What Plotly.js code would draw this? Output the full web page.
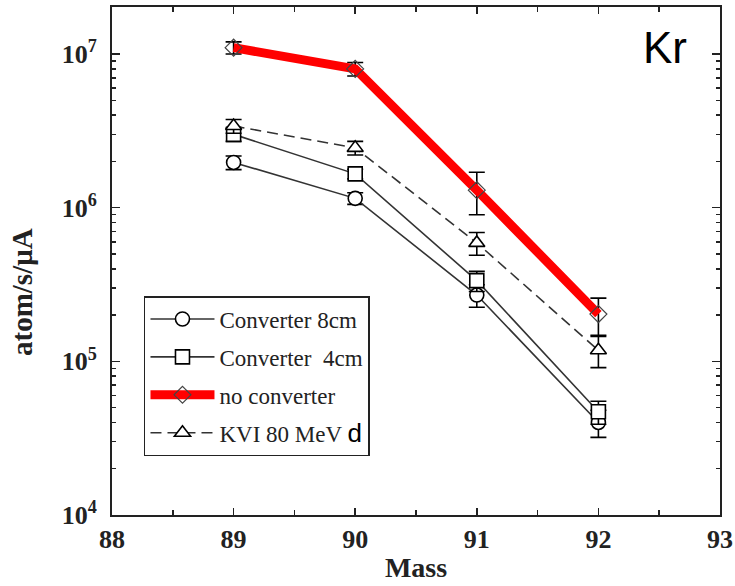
<!DOCTYPE html>
<html><head><meta charset="utf-8">
<script src="https://cdn.plot.ly/plotly-3.0.1.min.js"></script>
<style>body{margin:0;background:#fff}#plot{width:735px;height:586px}</style>
</head><body><div id="plot"></div>
<script>
const mass = [89, 90, 91, 92];
const seriesNames = ["Converter 8cm", "Converter  4cm", "no converter", "KVI 80 MeV"];
const conv8 = [1.97e6, 1.15e6, 2.7e5, 4.0e4];
const conv8Err = [0.2e6, 0.1e6, 0.45e5, 0.8e4];
const conv4 = [3.0e6, 1.66e6, 3.35e5, 4.7e4];
const conv4Err = [0.3e6, 0.12e6, 0.5e5, 0.8e4];
const noConv = [1.1e7, 8.0e6, 1.3e6, 2.03e5];
const noConvErr = [1.0e6, 0.8e6, 0.4e6, 0.55e5];
const kvi = [3.4e6, 2.45e6, 5.9e5, 1.18e5];
const kviErr = [0.35e6, 0.25e6, 1.0e5, 0.27e5];
const yTickVals = [1e4, 1e5, 1e6, 1e7];
const yTickText = ["<b>10<sup>4</sup></b>", "<b>10<sup>5</sup></b>", "<b>10<sup>6</sup></b>", "<b>10<sup>7</sup></b>"];
const xTickVals = [88, 89, 90, 91, 92, 93];
const xTickText = ["<b>88</b>", "<b>89</b>", "<b>90</b>", "<b>91</b>", "<b>92</b>", "<b>93</b>"];
const yTitle = "atom/s/μA";
const xTitle = "Mass";
const panelLabel = "Kr";
const kviSuffix = "d";

const minorY = [];
[1e4, 1e5, 1e6, 1e7].forEach(d => { for (let k = 2; k <= 9; k++) minorY.push(k * d); });

function errs(arr) {
  return {type: 'data', array: arr, visible: true, color: 'black', thickness: 1.6, width: 8};
}
const sans = 'Liberation Sans, Arial, sans-serif';
const base = {x: mass, type: 'scatter', mode: 'lines+markers'};
const tConv8 = Object.assign({}, base, {y: conv8, name: seriesNames[0], legendgroup: 'a', legendrank: 1,
    error_y: errs(conv8Err), line: {color: '#333', width: 1.6},
    marker: {symbol: 'circle', size: 14, color: 'white', line: {color: 'black', width: 1.6}}});
const tConv4 = Object.assign({}, base, {y: conv4, name: seriesNames[1], legendgroup: 'b', legendrank: 2,
    error_y: errs(conv4Err), line: {color: '#333', width: 1.6},
    marker: {symbol: 'square', size: 14, color: 'white', line: {color: 'black', width: 1.6}}});
const tNo = Object.assign({}, base, {y: noConv, name: seriesNames[2], legendgroup: 'c', legendrank: 3,
    error_y: errs(noConvErr), line: {color: '#ff0000', width: 9},
    marker: {symbol: 'diamond-open', size: 13, color: '#444', line: {color: '#444', width: 1.2}}});
const tKvi = Object.assign({}, base, {y: kvi,
    name: seriesNames[3] + ' <span style="font-family:Liberation Sans, Arial, sans-serif;font-size:26px;color:black">' + kviSuffix + '</span>',
    legendgroup: 'd', legendrank: 4,
    error_y: errs(kviErr), line: {color: '#333', width: 1.6, dash: '11px,6px'},
    marker: {symbol: 'triangle-up', size: 14, color: 'white', line: {color: 'black', width: 1.6}}});

const serif = 'Liberation Serif, Times New Roman, serif';
const layout = {
  width: 735, height: 586,
  margin: {l: 112, r: 15, t: 7, b: 71},
  paper_bgcolor: 'white', plot_bgcolor: 'white',
  showlegend: true,
  legend: {x: 0.0526, y: 0.431, xanchor: 'left', yanchor: 'top',
    bordercolor: '#222', borderwidth: 1.5, bgcolor: 'white',
    font: {family: serif, size: 23, color: '#222'},
    traceorder: 'grouped', tracegroupgap: 5, itemwidth: 64},
  xaxis: {range: [88, 93], tickvals: xTickVals, ticktext: xTickText,
    ticks: 'inside', ticklen: 7, tickwidth: 1.5, tickcolor: '#222',
    showline: true, linecolor: '#222', linewidth: 2, mirror: 'ticks',
    showgrid: false, zeroline: false,
    minor: {tickvals: [88.5, 89.5, 90.5, 91.5, 92.5], ticks: 'inside', ticklen: 5, tickcolor: '#222'},
    tickfont: {family: serif, size: 26, color: '#222'},
    title: {text: '<b>' + xTitle + '</b>', font: {family: serif, size: 28, color: '#222'}, standoff: 4}},
  yaxis: {type: 'log', range: [4, 7.306], tickvals: yTickVals, ticktext: yTickText,
    ticks: 'inside', ticklen: 8, tickwidth: 1.5, tickcolor: '#222',
    showline: true, linecolor: '#222', linewidth: 2, mirror: 'ticks',
    showgrid: false, zeroline: false, ticklabelstandoff: 8,
    minor: {tickvals: minorY, ticks: 'inside', ticklen: 4, tickcolor: '#222'},
    tickfont: {family: serif, size: 26, color: '#222'}},
  annotations: [
    {xref: 'paper', yref: 'paper', x: -0.148, y: 0.439, text: '<b>' + yTitle + '</b>', showarrow: false,
      textangle: -90, xanchor: 'center', yanchor: 'middle', font: {family: serif, size: 29, color: '#222'}},
    {xref: 'paper', yref: 'paper', x: 0.9095, y: 0.921, text: panelLabel, showarrow: false,
      xanchor: 'center', yanchor: 'middle', font: {family: sans, size: 44, color: 'black'}}
  ]
};
Plotly.newPlot('plot', [tConv8, tConv4, tKvi, tNo], layout, {displayModeBar: false, staticPlot: true});
</script></body></html>
